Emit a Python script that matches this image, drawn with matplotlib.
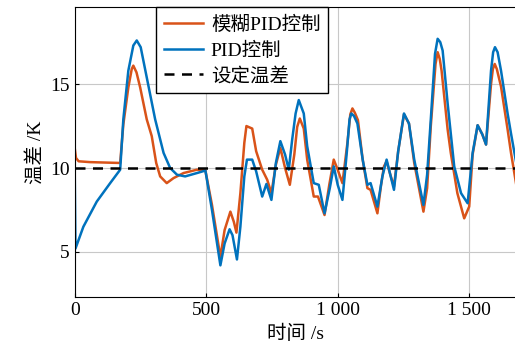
import matplotlib.pyplot as plt
from matplotlib.ticker import FuncFormatter

plt.rcParams['font.family'] = ['Liberation Serif', 'Noto Sans CJK SC']

# fuzzy PID curve (time s, temperature difference K)
t_fuzzy = [0, 5, 15, 60, 173, 185, 204, 217, 223, 235, 249, 274, 293, 310, 325,
           350, 376, 414, 465, 497, 522, 554, 570, 592, 605, 615, 630, 645, 653,
           675, 690, 713, 732, 748, 765, 782, 800, 818, 835, 846, 856, 871, 884,
           909, 925, 950, 968, 985, 1000, 1018, 1037, 1048, 1056, 1065, 1077,
           1095, 1113, 1125, 1151, 1165, 1176, 1186, 1200, 1214, 1230, 1252,
           1271, 1291, 1326, 1340, 1354, 1372, 1380, 1388, 1395, 1418, 1430,
           1455, 1481, 1500, 1513, 1532, 1550, 1564, 1583, 1590, 1597, 1605,
           1621, 1646, 1659, 1680]
v_fuzzy = [11.2, 10.6, 10.4, 10.35, 10.3, 12.6, 14.8, 15.9, 16.1, 15.7, 14.8,
           12.9, 11.9, 10.3, 9.5, 9.1, 9.4, 9.7, 9.9, 9.85, 7.8, 4.7, 6.3, 7.4,
           6.8, 6.15, 8.5, 11.5, 12.5, 12.35, 11.0, 9.9, 9.3, 8.5, 10.2, 11.2,
           10.0, 9.0, 10.8, 12.45, 12.95, 12.35, 10.5, 8.3, 8.3, 7.2, 9.0, 10.5,
           9.9, 9.1, 11.5, 13.2, 13.55, 13.3, 12.85, 10.5, 8.8, 8.7, 7.3, 9.0,
           10.1, 10.4, 9.6, 8.9, 11.0, 13.2, 12.65, 10.3, 7.4, 8.8, 12.5, 16.2,
           16.9, 16.5, 15.8, 12.3, 10.9, 8.5, 7.0, 7.7, 10.8, 12.55, 12.0, 11.4,
           15.0, 15.9, 16.2, 15.9, 14.85, 12.3, 10.9, 8.9]

# conventional PID curve
t_pid = [0, 3, 33, 84, 135, 173, 185, 204, 223, 236, 251, 274, 306, 338, 363,
         389, 420, 465, 497, 522, 554, 570, 589, 600, 617, 630, 645, 655, 675,
         690, 713, 729, 748, 765, 782, 800, 814, 827, 840, 852, 871, 884, 909,
         928, 950, 970, 985, 1000, 1018, 1035, 1045, 1052, 1062, 1075, 1095,
         1113, 1125, 1151, 1170, 1186, 1200, 1214, 1230, 1252, 1271, 1291,
         1326, 1340, 1354, 1370, 1380, 1390, 1399, 1418, 1443, 1469, 1494,
         1513, 1532, 1550, 1564, 1583, 1591, 1598, 1608, 1621, 1646, 1659, 1680]
v_pid = [10.0, 5.2, 6.5, 8.0, 9.1, 9.9, 12.9, 15.8, 17.3, 17.6, 17.2, 15.4,
         12.9, 10.9, 10.0, 9.6, 9.5, 9.7, 9.85, 7.5, 4.2, 5.5, 6.35, 6.0, 4.55,
         6.5, 9.5, 10.5, 10.5, 9.8, 8.3, 9.05, 8.1, 10.3, 11.6, 10.8, 9.9,
         11.7, 13.25, 14.05, 13.25, 11.3, 9.1, 9.0, 7.3, 8.8, 10.1, 9.0, 8.1,
         11.0, 12.9, 13.25, 13.1, 12.65, 10.5, 9.0, 9.1, 7.7, 9.5, 10.5, 9.6,
         8.7, 11.0, 13.25, 12.65, 10.5, 7.8, 9.6, 12.9, 16.8, 17.7, 17.5, 17.0,
         13.85, 10.1, 8.5, 7.9, 10.9, 12.55, 12.0, 11.4, 15.8, 16.9, 17.2,
         16.9, 15.8, 13.25, 12.05, 10.2]

setpoint = 10
labels = ['模糊PID控制', 'PID控制', '设定温差']

fig = plt.figure(figsize=(5.15, 3.53), dpi=100)
ax = fig.add_axes([0.145, 0.158, 0.858, 0.821])

ax.plot(t_fuzzy, v_fuzzy, color='#D95319', lw=1.8, label=labels[0])
ax.plot(t_pid, v_pid, color='#0072BD', lw=1.8, label=labels[1])
ax.axhline(setpoint, color='black', ls='--', lw=1.8, dashes=(4, 3), label=labels[2])

ax.set_xlim(0, 1680)
ax.set_ylim(2.3, 19.57)
ax.set_xticks([0, 500, 1000, 1500])
ax.set_yticks([5, 10, 15])
ax.xaxis.set_major_formatter(FuncFormatter(lambda v, p: f"{int(v):,}".replace(',', ' ')))
ax.tick_params(direction='in', labelsize=14, length=3)
ax.grid(True, color='#c8c8c8', lw=0.8)
ax.set_xlabel('时间 /s', fontsize=14)
ax.set_ylabel('温差 /K', fontsize=14)

ax.legend(loc='upper left', bbox_to_anchor=(0.185, 1.0), borderaxespad=0,
          fontsize=14, fancybox=False, framealpha=1, edgecolor='black',
          handlelength=2.0, handletextpad=0.4, labelspacing=0.4)

plt.savefig('out.png', dpi=100)
